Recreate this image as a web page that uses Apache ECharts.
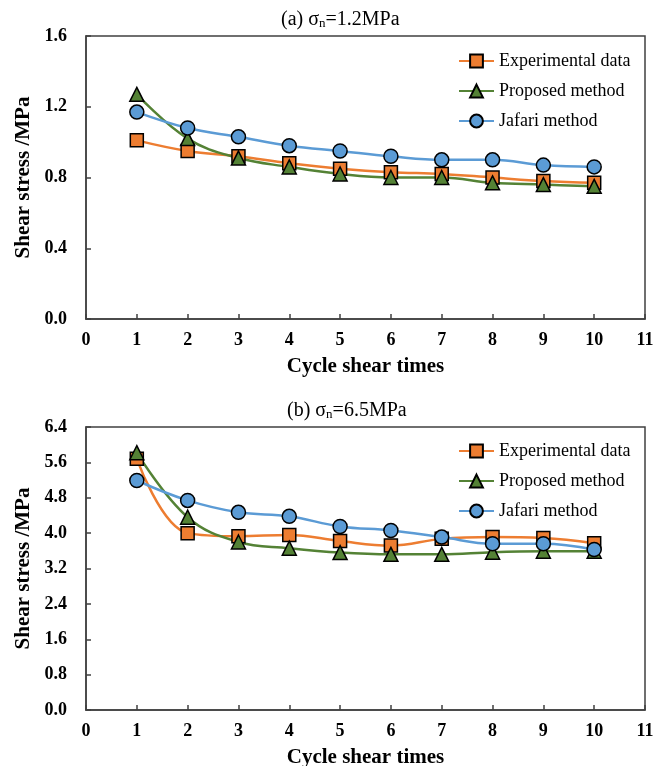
<!DOCTYPE html>
<html>
<head>
<meta charset="utf-8">
<script src="https://cdn.jsdelivr.net/npm/echarts@6/dist/echarts.min.js"></script>
<style>
  html, body { margin: 0; padding: 0; background: #fff; }
  #chart { width: 654px; height: 766px; }
</style>
</head>
<body>
<div id="chart"></div>
<script>
const FONT = '"Liberation Serif", "Times New Roman", serif'

// cycle numbers on x
const cycles = [1, 2, 3, 4, 5, 6, 7, 8, 9, 10]

// (a) sigma_n = 1.2 MPa
const expA = [1.01, 0.95, 0.92, 0.88, 0.85, 0.83, 0.82, 0.80, 0.78, 0.77]
const propA = [1.27, 1.02, 0.91, 0.86, 0.82, 0.80, 0.80, 0.77, 0.76, 0.75]
const jafA = [1.17, 1.08, 1.03, 0.98, 0.95, 0.92, 0.90, 0.90, 0.87, 0.86]

// (b) sigma_n = 6.5 MPa
const expB = [5.68, 4.00, 3.93, 3.96, 3.82, 3.72, 3.87, 3.91, 3.89, 3.77]
const propB = [5.82, 4.36, 3.80, 3.66, 3.56, 3.52, 3.52, 3.57, 3.59, 3.59]
const jafB = [5.19, 4.74, 4.47, 4.38, 4.15, 4.06, 3.91, 3.76, 3.76, 3.63]

const names = ['Experimental data', 'Proposed method', 'Jafari method']
const colors = ['#ED7D31', '#548235', '#5B9BD5']
const symbols = ['rect', 'triangle', 'circle']
const symbolSizes = [13, 14, 14]

const pairs = arr => cycles.map((c, i) => [c, arr[i]])

const makeSeries = (arr, k, idx) => ({
  name: names[k],
  type: 'line',
  xAxisIndex: idx,
  yAxisIndex: idx,
  data: pairs(arr),
  smooth: 0.4,
  symbol: symbols[k],
  symbolSize: symbolSizes[k],
  lineStyle: { color: colors[k], width: 2.5 },
  itemStyle: { color: colors[k], borderColor: '#000', borderWidth: 1.5 },
  emphasis: { disabled: true }
})

const axisLine = { show: true, lineStyle: { color: '#404040', width: 1.5 } }
const axisTick = { show: true, inside: true, length: 5, lineStyle: { color: '#404040', width: 1.5 } }

const makeX = idx => ({
  type: 'value',
  gridIndex: idx,
  min: 0,
  max: 11,
  interval: 1,
  name: 'Cycle shear times',
  nameLocation: 'middle',
  nameGap: 37,
  nameTextStyle: { fontFamily: FONT, fontSize: 21, fontWeight: 'bold', color: '#000' },
  axisLine: axisLine,
  axisTick: axisTick,
  splitLine: { show: false },
  axisLabel: { fontFamily: FONT, fontSize: 18, fontWeight: 'bold', color: '#000', margin: 12 }
})

const makeY = (idx, max, step) => ({
  type: 'value',
  gridIndex: idx,
  min: 0,
  max: max,
  interval: step,
  name: 'Shear stress /MPa',
  nameLocation: 'middle',
  nameGap: 50,
  nameTextStyle: { fontFamily: FONT, fontSize: 21, fontWeight: 'bold', color: '#000' },
  axisLine: axisLine,
  axisTick: axisTick,
  splitLine: { show: false },
  axisLabel: { fontFamily: FONT, fontSize: 18, fontWeight: 'bold', color: '#000', margin: 19,
    formatter: v => v.toFixed(1) }
})

const makeLegend = top => ({
  orient: 'vertical',
  left: 458,
  top: top,
  padding: 0,
  itemWidth: 35,
  itemHeight: 16,
  itemGap: 12,
  data: names,
  selectedMode: false,
  textStyle: { fontFamily: FONT, fontSize: 18, color: '#000' }
})

const subRich = { s: { fontFamily: FONT, fontSize: 13, color: '#000', verticalAlign: 'bottom', lineHeight: 6 } }

const chart = echarts.init(document.getElementById('chart'))
chart.setOption({
  animation: false,
  backgroundColor: '#fff',
  title: [
    { text: '(a) σ{s|n}=1.2MPa', left: 276, top: 5,
      textStyle: { fontFamily: FONT, fontSize: 20, lineHeight: 20, fontWeight: 'normal', color: '#000', rich: subRich } },
    { text: '(b) σ{s|n}=6.5MPa', left: 282, top: 396,
      textStyle: { fontFamily: FONT, fontSize: 20, lineHeight: 20, fontWeight: 'normal', color: '#000', rich: subRich } }
  ],
  legend: [makeLegend(52), makeLegend(442)],
  grid: [
    { left: 86, top: 36, width: 559, height: 283, show: true, borderColor: '#404040', borderWidth: 1.5, outerBoundsMode: 'none' },
    { left: 86, top: 427, width: 559, height: 283, show: true, borderColor: '#404040', borderWidth: 1.5, outerBoundsMode: 'none' }
  ],
  xAxis: [makeX(0), makeX(1)],
  yAxis: [makeY(0, 1.6, 0.4), makeY(1, 6.4, 0.8)],
  series: [
    makeSeries(expA, 0, 0),
    makeSeries(propA, 1, 0),
    makeSeries(jafA, 2, 0),
    makeSeries(expB, 0, 1),
    makeSeries(propB, 1, 1),
    makeSeries(jafB, 2, 1)
  ]
})
</script>
</body>
</html>
